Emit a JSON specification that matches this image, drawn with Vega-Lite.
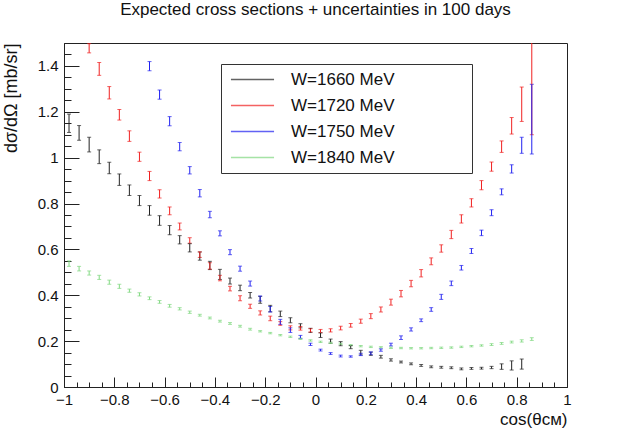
{
  "$schema": "https://vega.github.io/schema/vega-lite/v6.json",
  "description": "Expected cross sections with uncertainties in 100 days, four W values",
  "width": 503,
  "height": 344,
  "autosize": "none",
  "padding": {"left": 64, "top": 43, "right": 63, "bottom": 43},
  "background": "white",
  "title": {
    "text": "Expected cross sections + uncertainties in 100 days",
    "font": "Liberation Sans",
    "fontSize": 17,
    "fontWeight": "normal",
    "color": "#111",
    "anchor": "middle",
    "offset": 17
  },
  "config": {
    "view": {"stroke": "#222", "strokeWidth": 1},
    "axis": {
      "grid": false,
      "domainColor": "#222",
      "tickColor": "#222",
      "labelFont": "Liberation Sans",
      "labelFontSize": 15,
      "labelColor": "#111",
      "labelOverlap": false,
      "labelFlush": false,
      "titleFont": "Liberation Sans",
      "titleFontSize": 18,
      "titleFontWeight": "normal",
      "titleColor": "#111"
    }
  },
  "data": {
    "values": [
      {"series": "W=1660 MeV", "cos": -0.98, "xsec": 1.150, "err": 0.040},
      {"series": "W=1660 MeV", "cos": -0.94, "xsec": 1.108, "err": 0.032},
      {"series": "W=1660 MeV", "cos": -0.90, "xsec": 1.057, "err": 0.032},
      {"series": "W=1660 MeV", "cos": -0.86, "xsec": 1.004, "err": 0.030},
      {"series": "W=1660 MeV", "cos": -0.82, "xsec": 0.955, "err": 0.025},
      {"series": "W=1660 MeV", "cos": -0.78, "xsec": 0.904, "err": 0.025},
      {"series": "W=1660 MeV", "cos": -0.74, "xsec": 0.858, "err": 0.023},
      {"series": "W=1660 MeV", "cos": -0.70, "xsec": 0.813, "err": 0.022},
      {"series": "W=1660 MeV", "cos": -0.66, "xsec": 0.770, "err": 0.021},
      {"series": "W=1660 MeV", "cos": -0.62, "xsec": 0.726, "err": 0.021},
      {"series": "W=1660 MeV", "cos": -0.58, "xsec": 0.684, "err": 0.020},
      {"series": "W=1660 MeV", "cos": -0.54, "xsec": 0.642, "err": 0.018},
      {"series": "W=1660 MeV", "cos": -0.50, "xsec": 0.607, "err": 0.018},
      {"series": "W=1660 MeV", "cos": -0.46, "xsec": 0.571, "err": 0.018},
      {"series": "W=1660 MeV", "cos": -0.42, "xsec": 0.530, "err": 0.018},
      {"series": "W=1660 MeV", "cos": -0.38, "xsec": 0.491, "err": 0.022},
      {"series": "W=1660 MeV", "cos": -0.34, "xsec": 0.462, "err": 0.013},
      {"series": "W=1660 MeV", "cos": -0.30, "xsec": 0.432, "err": 0.012},
      {"series": "W=1660 MeV", "cos": -0.26, "xsec": 0.400, "err": 0.012},
      {"series": "W=1660 MeV", "cos": -0.22, "xsec": 0.380, "err": 0.015},
      {"series": "W=1660 MeV", "cos": -0.18, "xsec": 0.342, "err": 0.014},
      {"series": "W=1660 MeV", "cos": -0.14, "xsec": 0.319, "err": 0.012},
      {"series": "W=1660 MeV", "cos": -0.10, "xsec": 0.291, "err": 0.011},
      {"series": "W=1660 MeV", "cos": -0.06, "xsec": 0.267, "err": 0.009},
      {"series": "W=1660 MeV", "cos": -0.02, "xsec": 0.247, "err": 0.009},
      {"series": "W=1660 MeV", "cos": 0.02, "xsec": 0.226, "err": 0.010},
      {"series": "W=1660 MeV", "cos": 0.06, "xsec": 0.200, "err": 0.009},
      {"series": "W=1660 MeV", "cos": 0.10, "xsec": 0.189, "err": 0.009},
      {"series": "W=1660 MeV", "cos": 0.14, "xsec": 0.174, "err": 0.007},
      {"series": "W=1660 MeV", "cos": 0.18, "xsec": 0.150, "err": 0.010},
      {"series": "W=1660 MeV", "cos": 0.22, "xsec": 0.145, "err": 0.007},
      {"series": "W=1660 MeV", "cos": 0.26, "xsec": 0.132, "err": 0.006},
      {"series": "W=1660 MeV", "cos": 0.30, "xsec": 0.118, "err": 0.005},
      {"series": "W=1660 MeV", "cos": 0.34, "xsec": 0.109, "err": 0.004},
      {"series": "W=1660 MeV", "cos": 0.38, "xsec": 0.101, "err": 0.004},
      {"series": "W=1660 MeV", "cos": 0.42, "xsec": 0.094, "err": 0.004},
      {"series": "W=1660 MeV", "cos": 0.46, "xsec": 0.088, "err": 0.004},
      {"series": "W=1660 MeV", "cos": 0.50, "xsec": 0.086, "err": 0.004},
      {"series": "W=1660 MeV", "cos": 0.54, "xsec": 0.084, "err": 0.004},
      {"series": "W=1660 MeV", "cos": 0.58, "xsec": 0.079, "err": 0.004},
      {"series": "W=1660 MeV", "cos": 0.62, "xsec": 0.081, "err": 0.004},
      {"series": "W=1660 MeV", "cos": 0.66, "xsec": 0.082, "err": 0.004},
      {"series": "W=1660 MeV", "cos": 0.70, "xsec": 0.085, "err": 0.005},
      {"series": "W=1660 MeV", "cos": 0.74, "xsec": 0.089, "err": 0.012},
      {"series": "W=1660 MeV", "cos": 0.78, "xsec": 0.094, "err": 0.020},
      {"series": "W=1660 MeV", "cos": 0.82, "xsec": 0.100, "err": 0.022},

      {"series": "W=1720 MeV", "cos": -0.90, "xsec": 1.477, "err": 0.020},
      {"series": "W=1720 MeV", "cos": -0.86, "xsec": 1.387, "err": 0.028},
      {"series": "W=1720 MeV", "cos": -0.82, "xsec": 1.283, "err": 0.027},
      {"series": "W=1720 MeV", "cos": -0.78, "xsec": 1.187, "err": 0.023},
      {"series": "W=1720 MeV", "cos": -0.74, "xsec": 1.094, "err": 0.023},
      {"series": "W=1720 MeV", "cos": -0.70, "xsec": 1.004, "err": 0.020},
      {"series": "W=1720 MeV", "cos": -0.66, "xsec": 0.920, "err": 0.020},
      {"series": "W=1720 MeV", "cos": -0.62, "xsec": 0.842, "err": 0.018},
      {"series": "W=1720 MeV", "cos": -0.58, "xsec": 0.768, "err": 0.017},
      {"series": "W=1720 MeV", "cos": -0.54, "xsec": 0.700, "err": 0.015},
      {"series": "W=1720 MeV", "cos": -0.50, "xsec": 0.639, "err": 0.012},
      {"series": "W=1720 MeV", "cos": -0.46, "xsec": 0.577, "err": 0.012},
      {"series": "W=1720 MeV", "cos": -0.42, "xsec": 0.528, "err": 0.014},
      {"series": "W=1720 MeV", "cos": -0.38, "xsec": 0.475, "err": 0.012},
      {"series": "W=1720 MeV", "cos": -0.34, "xsec": 0.429, "err": 0.010},
      {"series": "W=1720 MeV", "cos": -0.30, "xsec": 0.387, "err": 0.011},
      {"series": "W=1720 MeV", "cos": -0.26, "xsec": 0.352, "err": 0.009},
      {"series": "W=1720 MeV", "cos": -0.22, "xsec": 0.323, "err": 0.009},
      {"series": "W=1720 MeV", "cos": -0.18, "xsec": 0.299, "err": 0.010},
      {"series": "W=1720 MeV", "cos": -0.14, "xsec": 0.277, "err": 0.008},
      {"series": "W=1720 MeV", "cos": -0.10, "xsec": 0.258, "err": 0.009},
      {"series": "W=1720 MeV", "cos": -0.06, "xsec": 0.256, "err": 0.008},
      {"series": "W=1720 MeV", "cos": -0.02, "xsec": 0.247, "err": 0.007},
      {"series": "W=1720 MeV", "cos": 0.02, "xsec": 0.244, "err": 0.007},
      {"series": "W=1720 MeV", "cos": 0.06, "xsec": 0.247, "err": 0.007},
      {"series": "W=1720 MeV", "cos": 0.10, "xsec": 0.257, "err": 0.008},
      {"series": "W=1720 MeV", "cos": 0.14, "xsec": 0.269, "err": 0.008},
      {"series": "W=1720 MeV", "cos": 0.18, "xsec": 0.287, "err": 0.009},
      {"series": "W=1720 MeV", "cos": 0.22, "xsec": 0.309, "err": 0.011},
      {"series": "W=1720 MeV", "cos": 0.26, "xsec": 0.338, "err": 0.011},
      {"series": "W=1720 MeV", "cos": 0.30, "xsec": 0.370, "err": 0.013},
      {"series": "W=1720 MeV", "cos": 0.34, "xsec": 0.407, "err": 0.014},
      {"series": "W=1720 MeV", "cos": 0.38, "xsec": 0.451, "err": 0.014},
      {"series": "W=1720 MeV", "cos": 0.42, "xsec": 0.496, "err": 0.016},
      {"series": "W=1720 MeV", "cos": 0.46, "xsec": 0.548, "err": 0.015},
      {"series": "W=1720 MeV", "cos": 0.50, "xsec": 0.604, "err": 0.016},
      {"series": "W=1720 MeV", "cos": 0.54, "xsec": 0.665, "err": 0.018},
      {"series": "W=1720 MeV", "cos": 0.58, "xsec": 0.733, "err": 0.018},
      {"series": "W=1720 MeV", "cos": 0.62, "xsec": 0.803, "err": 0.018},
      {"series": "W=1720 MeV", "cos": 0.66, "xsec": 0.880, "err": 0.020},
      {"series": "W=1720 MeV", "cos": 0.70, "xsec": 0.961, "err": 0.020},
      {"series": "W=1720 MeV", "cos": 0.74, "xsec": 1.048, "err": 0.025},
      {"series": "W=1720 MeV", "cos": 0.78, "xsec": 1.139, "err": 0.036},
      {"series": "W=1720 MeV", "cos": 0.82, "xsec": 1.233, "err": 0.075},
      {"series": "W=1720 MeV", "cos": 0.86, "xsec": 1.340, "err": 0.240},

      {"series": "W=1750 MeV", "cos": -0.66, "xsec": 1.399, "err": 0.020},
      {"series": "W=1750 MeV", "cos": -0.62, "xsec": 1.275, "err": 0.020},
      {"series": "W=1750 MeV", "cos": -0.58, "xsec": 1.159, "err": 0.020},
      {"series": "W=1750 MeV", "cos": -0.54, "xsec": 1.048, "err": 0.018},
      {"series": "W=1750 MeV", "cos": -0.50, "xsec": 0.945, "err": 0.016},
      {"series": "W=1750 MeV", "cos": -0.46, "xsec": 0.845, "err": 0.016},
      {"series": "W=1750 MeV", "cos": -0.42, "xsec": 0.752, "err": 0.014},
      {"series": "W=1750 MeV", "cos": -0.38, "xsec": 0.670, "err": 0.011},
      {"series": "W=1750 MeV", "cos": -0.34, "xsec": 0.588, "err": 0.011},
      {"series": "W=1750 MeV", "cos": -0.30, "xsec": 0.516, "err": 0.011},
      {"series": "W=1750 MeV", "cos": -0.26, "xsec": 0.451, "err": 0.011},
      {"series": "W=1750 MeV", "cos": -0.22, "xsec": 0.386, "err": 0.011},
      {"series": "W=1750 MeV", "cos": -0.18, "xsec": 0.339, "err": 0.012},
      {"series": "W=1750 MeV", "cos": -0.14, "xsec": 0.284, "err": 0.011},
      {"series": "W=1750 MeV", "cos": -0.10, "xsec": 0.248, "err": 0.010},
      {"series": "W=1750 MeV", "cos": -0.06, "xsec": 0.218, "err": 0.007},
      {"series": "W=1750 MeV", "cos": -0.02, "xsec": 0.186, "err": 0.005},
      {"series": "W=1750 MeV", "cos": 0.02, "xsec": 0.161, "err": 0.004},
      {"series": "W=1750 MeV", "cos": 0.06, "xsec": 0.146, "err": 0.004},
      {"series": "W=1750 MeV", "cos": 0.10, "xsec": 0.135, "err": 0.004},
      {"series": "W=1750 MeV", "cos": 0.14, "xsec": 0.133, "err": 0.003},
      {"series": "W=1750 MeV", "cos": 0.18, "xsec": 0.142, "err": 0.005},
      {"series": "W=1750 MeV", "cos": 0.22, "xsec": 0.147, "err": 0.006},
      {"series": "W=1750 MeV", "cos": 0.26, "xsec": 0.161, "err": 0.005},
      {"series": "W=1750 MeV", "cos": 0.30, "xsec": 0.185, "err": 0.006},
      {"series": "W=1750 MeV", "cos": 0.34, "xsec": 0.215, "err": 0.008},
      {"series": "W=1750 MeV", "cos": 0.38, "xsec": 0.251, "err": 0.007},
      {"series": "W=1750 MeV", "cos": 0.42, "xsec": 0.291, "err": 0.006},
      {"series": "W=1750 MeV", "cos": 0.46, "xsec": 0.338, "err": 0.008},
      {"series": "W=1750 MeV", "cos": 0.50, "xsec": 0.393, "err": 0.011},
      {"series": "W=1750 MeV", "cos": 0.54, "xsec": 0.452, "err": 0.010},
      {"series": "W=1750 MeV", "cos": 0.58, "xsec": 0.520, "err": 0.010},
      {"series": "W=1750 MeV", "cos": 0.62, "xsec": 0.593, "err": 0.011},
      {"series": "W=1750 MeV", "cos": 0.66, "xsec": 0.672, "err": 0.012},
      {"series": "W=1750 MeV", "cos": 0.70, "xsec": 0.760, "err": 0.013},
      {"series": "W=1750 MeV", "cos": 0.74, "xsec": 0.851, "err": 0.013},
      {"series": "W=1750 MeV", "cos": 0.78, "xsec": 0.951, "err": 0.018},
      {"series": "W=1750 MeV", "cos": 0.82, "xsec": 1.054, "err": 0.035},
      {"series": "W=1750 MeV", "cos": 0.86, "xsec": 1.168, "err": 0.152},

      {"series": "W=1840 MeV", "cos": -0.98, "xsec": 0.538, "err": 0.012},
      {"series": "W=1840 MeV", "cos": -0.94, "xsec": 0.516, "err": 0.010},
      {"series": "W=1840 MeV", "cos": -0.90, "xsec": 0.497, "err": 0.009},
      {"series": "W=1840 MeV", "cos": -0.86, "xsec": 0.478, "err": 0.009},
      {"series": "W=1840 MeV", "cos": -0.82, "xsec": 0.457, "err": 0.009},
      {"series": "W=1840 MeV", "cos": -0.78, "xsec": 0.439, "err": 0.009},
      {"series": "W=1840 MeV", "cos": -0.74, "xsec": 0.420, "err": 0.007},
      {"series": "W=1840 MeV", "cos": -0.70, "xsec": 0.404, "err": 0.007},
      {"series": "W=1840 MeV", "cos": -0.66, "xsec": 0.387, "err": 0.006},
      {"series": "W=1840 MeV", "cos": -0.62, "xsec": 0.371, "err": 0.006},
      {"series": "W=1840 MeV", "cos": -0.58, "xsec": 0.354, "err": 0.006},
      {"series": "W=1840 MeV", "cos": -0.54, "xsec": 0.341, "err": 0.005},
      {"series": "W=1840 MeV", "cos": -0.50, "xsec": 0.326, "err": 0.005},
      {"series": "W=1840 MeV", "cos": -0.46, "xsec": 0.313, "err": 0.004},
      {"series": "W=1840 MeV", "cos": -0.42, "xsec": 0.301, "err": 0.004},
      {"series": "W=1840 MeV", "cos": -0.38, "xsec": 0.287, "err": 0.004},
      {"series": "W=1840 MeV", "cos": -0.34, "xsec": 0.277, "err": 0.004},
      {"series": "W=1840 MeV", "cos": -0.30, "xsec": 0.265, "err": 0.004},
      {"series": "W=1840 MeV", "cos": -0.26, "xsec": 0.252, "err": 0.004},
      {"series": "W=1840 MeV", "cos": -0.22, "xsec": 0.243, "err": 0.003},
      {"series": "W=1840 MeV", "cos": -0.18, "xsec": 0.235, "err": 0.003},
      {"series": "W=1840 MeV", "cos": -0.14, "xsec": 0.226, "err": 0.003},
      {"series": "W=1840 MeV", "cos": -0.10, "xsec": 0.219, "err": 0.003},
      {"series": "W=1840 MeV", "cos": -0.06, "xsec": 0.210, "err": 0.003},
      {"series": "W=1840 MeV", "cos": -0.02, "xsec": 0.203, "err": 0.003},
      {"series": "W=1840 MeV", "cos": 0.02, "xsec": 0.197, "err": 0.003},
      {"series": "W=1840 MeV", "cos": 0.06, "xsec": 0.193, "err": 0.003},
      {"series": "W=1840 MeV", "cos": 0.10, "xsec": 0.188, "err": 0.003},
      {"series": "W=1840 MeV", "cos": 0.14, "xsec": 0.182, "err": 0.003},
      {"series": "W=1840 MeV", "cos": 0.18, "xsec": 0.178, "err": 0.003},
      {"series": "W=1840 MeV", "cos": 0.22, "xsec": 0.175, "err": 0.003},
      {"series": "W=1840 MeV", "cos": 0.26, "xsec": 0.173, "err": 0.003},
      {"series": "W=1840 MeV", "cos": 0.30, "xsec": 0.171, "err": 0.003},
      {"series": "W=1840 MeV", "cos": 0.34, "xsec": 0.170, "err": 0.003},
      {"series": "W=1840 MeV", "cos": 0.38, "xsec": 0.169, "err": 0.003},
      {"series": "W=1840 MeV", "cos": 0.42, "xsec": 0.169, "err": 0.003},
      {"series": "W=1840 MeV", "cos": 0.46, "xsec": 0.170, "err": 0.003},
      {"series": "W=1840 MeV", "cos": 0.50, "xsec": 0.171, "err": 0.003},
      {"series": "W=1840 MeV", "cos": 0.54, "xsec": 0.172, "err": 0.003},
      {"series": "W=1840 MeV", "cos": 0.58, "xsec": 0.175, "err": 0.003},
      {"series": "W=1840 MeV", "cos": 0.62, "xsec": 0.178, "err": 0.003},
      {"series": "W=1840 MeV", "cos": 0.66, "xsec": 0.181, "err": 0.003},
      {"series": "W=1840 MeV", "cos": 0.70, "xsec": 0.185, "err": 0.004},
      {"series": "W=1840 MeV", "cos": 0.74, "xsec": 0.190, "err": 0.004},
      {"series": "W=1840 MeV", "cos": 0.78, "xsec": 0.196, "err": 0.004},
      {"series": "W=1840 MeV", "cos": 0.82, "xsec": 0.201, "err": 0.005},
      {"series": "W=1840 MeV", "cos": 0.86, "xsec": 0.209, "err": 0.006}
    ]
  },
  "mark": {
    "type": "errorbar",
    "clip": true,
    "ticks": {"size": 4, "thickness": 1},
    "rule": {"strokeWidth": 1}
  },
  "encoding": {
    "x": {
      "field": "cos",
      "type": "quantitative",
      "scale": {"domain": [-1, 1], "nice": false, "zero": false},
      "axis": {
        "title": "cos(θᴄᴍ)",
        "titleFontSize": 17,
        "titleAnchor": "end",
        "titleAlign": "right",
        "titleBaseline": "alphabetic",
        "titleX": 503,
        "titleY": 37,
        "format": "~g",
        "values": [-1, -0.95, -0.9, -0.85, -0.8, -0.75, -0.7, -0.65, -0.6, -0.55, -0.5, -0.45, -0.4, -0.35, -0.3, -0.25, -0.2, -0.15, -0.1, -0.05, 0, 0.05, 0.1, 0.15, 0.2, 0.25, 0.3, 0.35, 0.4, 0.45, 0.5, 0.55, 0.6, 0.65, 0.7, 0.75, 0.8, 0.85, 0.9, 0.95, 1],
        "labelExpr": "abs(datum.value * 5 - round(datum.value * 5)) < 0.001 ? datum.label : ''",
        "labelPadding": 15,
        "tickSize": {
          "condition": {"test": "abs(datum.value * 5 - round(datum.value * 5)) < 0.001", "value": -10},
          "value": -5
        }
      }
    },
    "y": {
      "field": "xsec",
      "type": "quantitative",
      "scale": {"domain": [0, 1.5], "nice": false},
      "axis": {
        "title": "dσ/dΩ [mb/sr]",
        "titleAnchor": "end",
        "titleAlign": "right",
        "titleBaseline": "alphabetic",
        "titleAngle": -90,
        "titleX": -48,
        "titleY": 0,
        "format": "~g",
        "values": [0, 0.05, 0.1, 0.15, 0.2, 0.25, 0.3, 0.35, 0.4, 0.45, 0.5, 0.55, 0.6, 0.65, 0.7, 0.75, 0.8, 0.85, 0.9, 0.95, 1, 1.05, 1.1, 1.15, 1.2, 1.25, 1.3, 1.35, 1.4, 1.45, 1.5],
        "labelExpr": "abs(datum.value * 5 - round(datum.value * 5)) < 0.001 ? datum.label : ''",
        "labelPadding": 21,
        "tickSize": {
          "condition": {"test": "abs(datum.value * 5 - round(datum.value * 5)) < 0.001", "value": -15},
          "value": -7
        }
      }
    },
    "yError": {"field": "err"},
    "color": {
      "field": "series",
      "type": "nominal",
      "scale": {
        "domain": ["W=1660 MeV", "W=1720 MeV", "W=1750 MeV", "W=1840 MeV"],
        "range": ["#222222", "#f02020", "#2020f0", "#80d880"]
      },
      "legend": {
        "orient": "none",
        "legendX": 157,
        "legendY": 21,
        "title": "\u2800\u2800\u2800\u2800\u2800\u2800",
        "titleOrient": "right",
        "titleFont": "DejaVu Sans",
        "titleFontSize": 15,
        "titleFontWeight": "normal",
        "titlePadding": 5,
        "fillColor": "white",
        "strokeColor": "#333",
        "padding": 7,
        "symbolType": "M-4,0H4",
        "symbolSize": 116,
        "symbolStrokeWidth": 1.5,
        "symbolOffset": 16,
        "labelOffset": 30,
        "labelFont": "Liberation Sans",
        "labelFontSize": 17,
        "labelColor": "#111",
        "rowPadding": 8
      }
    }
  }
}
